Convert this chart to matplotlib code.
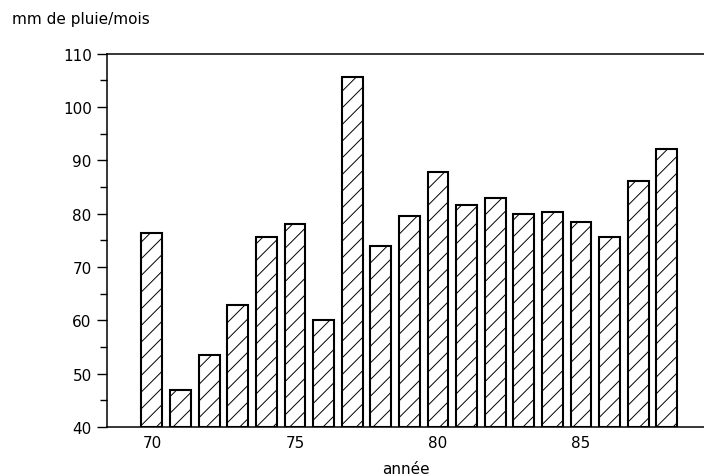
import matplotlib
matplotlib.use("Agg")
import matplotlib.pyplot as plt

# rainfall per year (mm de pluie / mois)
years = [70, 71, 72, 73, 74, 75, 76, 77, 78, 79, 80, 81, 82, 83, 84, 85, 86, 87, 88]
rain = [76.3, 47.0, 53.5, 62.8, 75.6, 78.1, 60.0, 105.6, 74.0, 79.5,
        87.8, 81.6, 82.9, 80.0, 80.4, 78.5, 75.7, 86.1, 92.2]
xticks = [70, 75, 80, 85]
yticks = [40, 50, 60, 70, 80, 90, 100, 110]

plt.rcParams['hatch.linewidth'] = 0.7
fig = plt.figure(figsize=(7.04, 4.77), dpi=100)
ax = fig.add_axes([0.152, 0.103, 0.848, 0.782])

ax.bar(years, [r - 40 for r in rain], bottom=40, width=0.73,
       facecolor="white", edgecolor="black", linewidth=1.5, hatch="//")

ax.set_xlim(68.43, 89.3)
ax.set_ylim(40, 110)
ax.set_xticks(xticks)
ax.set_yticks(yticks)
ax.set_yticks(range(45, 110, 10), minor=True)
ax.tick_params(axis='y', which='major', direction='out', length=7, width=1, labelsize=11, pad=4)
ax.tick_params(axis='y', which='minor', direction='out', length=5, width=1)
ax.tick_params(axis='x', length=0, labelsize=11, pad=6)
ax.spines['right'].set_visible(False)
for s in ['left', 'bottom', 'top']:
    ax.spines[s].set_linewidth(1.1)

ax.set_xlabel("année", fontsize=11, labelpad=8)
fig.text(0.017, 0.96, "mm de pluie/mois", fontsize=11, ha='left', va='center')

fig.savefig("out.png", dpi=100)
